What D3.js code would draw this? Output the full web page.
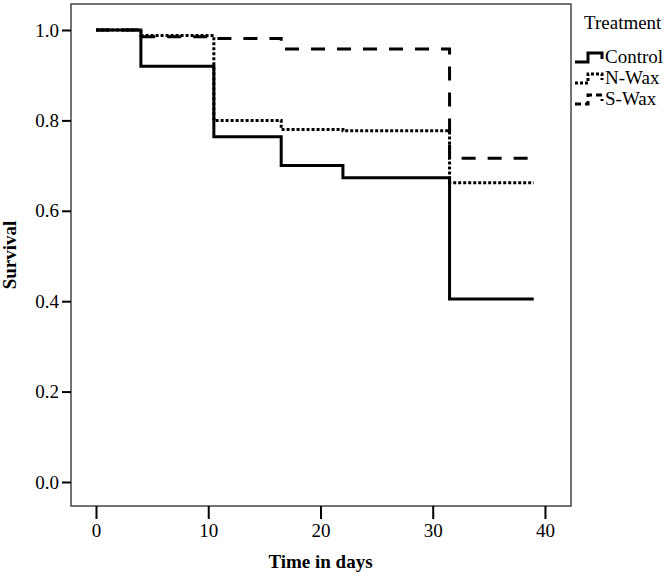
<!DOCTYPE html>
<html><head><meta charset="utf-8">
<script src="https://cdn.jsdelivr.net/npm/d3@7"></script>
<style>body{margin:0;background:#fff;} text{font-family:"Liberation Serif","Times New Roman",serif;}</style>
</head><body>
<svg id="c" width="672" height="579"></svg>
<script>
const xTicks = [0, 10, 20, 30, 40];
const yTicks = [0.0, 0.2, 0.4, 0.6, 0.8, 1.0];
const seriesNames = ["Control", "N-Wax", "S-Wax"];
const controlTime = [0, 4, 10.5, 16.5, 22, 31.5, 39];
const controlSurv = [1.0, 0.92, 0.764, 0.70, 0.673, 0.405, 0.405];
const nwaxTime = [0, 4, 10.5, 16.5, 22, 31.5, 39];
const nwaxSurv = [1.0, 0.988, 0.80, 0.78, 0.777, 0.662, 0.662];
const swaxTime = [0, 4, 10.5, 16.5, 31.5, 39];
const swaxSurv = [1.0, 0.985, 0.981, 0.958, 0.716, 0.716];

const svg = d3.select("#c");
const L = 71, R = 571, T = 4, B = 506;
const x = d3.scaleLinear().domain([-2.227, 42.32]).range([L, R]);
const y = d3.scaleLinear().domain([-0.0531, 1.0575]).range([B, T]);

const styles = {
  "Control": {dash: null, w: 3},
  "N-Wax": {dash: "3,2", w: 3},
  "S-Wax": {dash: "14,12", w: 3}
};
const series = [
  {name: "S-Wax", t: swaxTime, s: swaxSurv},
  {name: "N-Wax", t: nwaxTime, s: nwaxSurv},
  {name: "Control", t: controlTime, s: controlSurv}
];

// frame
svg.append("rect").attr("x", L).attr("y", T).attr("width", R - L).attr("height", B - T)
  .attr("fill", "none").attr("stroke", "#444").attr("stroke-width", 1.5);

// axes
const yAxis = d3.axisLeft(y).tickValues(yTicks).tickFormat(d3.format(".1f")).tickSize(9).tickPadding(3);
const gy = svg.append("g").attr("transform", `translate(${L},0)`).call(yAxis);
gy.select(".domain").remove();
gy.selectAll("line").attr("stroke", "#000").attr("stroke-width", 2);
gy.selectAll("text").attr("font-size", 19).attr("fill", "#000").attr("font-family", "Liberation Serif");

const xAxis = d3.axisBottom(x).tickValues(xTicks).tickSize(13).tickPadding(5);
const gx = svg.append("g").attr("transform", `translate(0,${B})`).call(xAxis);
gx.select(".domain").remove();
gx.selectAll("line").attr("stroke", "#000").attr("stroke-width", 2);
gx.selectAll("text").attr("font-size", 19).attr("fill", "#000").attr("font-family", "Liberation Serif");

svg.append("text").attr("x", x(20)).attr("y", 568).attr("text-anchor", "middle")
  .attr("font-size", 19).attr("font-weight", "bold").text("Time in days");
svg.append("text").attr("transform", `translate(16,${(T + B) / 2}) rotate(-90)`)
  .attr("text-anchor", "middle").attr("font-size", 19).attr("font-weight", "bold").text("Survival");

// curves
const line = d3.line().x(d => x(d[0])).y(d => y(d[1])).curve(d3.curveStepAfter);
series.forEach(sr => {
  const pts = sr.t.map((t, i) => [t, sr.s[i]]);
  svg.append("path").datum(pts).attr("d", line)
    .attr("fill", "none").attr("stroke", "#000")
    .attr("stroke-width", styles[sr.name].w)
    .attr("stroke-dasharray", styles[sr.name].dash);
});

// legend
svg.append("text").attr("x", 584).attr("y", 29).attr("font-size", 19).text("Treatment");
seriesNames.forEach((nm, i) => {
  const cy = 57 + i * 21;
  const g = svg.append("g");
  const p = d3.path();
  p.moveTo(575, cy + 5); p.lineTo(588, cy + 5); p.lineTo(588, cy - 4); p.lineTo(602, cy - 4); p.lineTo(602, cy + 2);
  g.append("path").attr("d", p.toString()).attr("fill", "none").attr("stroke", "#000")
    .attr("stroke-width", 3).attr("stroke-dasharray", styles[nm].dash === "14,12" ? "6,4" : styles[nm].dash);
  g.append("text").attr("x", 605).attr("y", cy + 6).attr("font-size", 19).text(nm);
});
</script>
</body></html>
